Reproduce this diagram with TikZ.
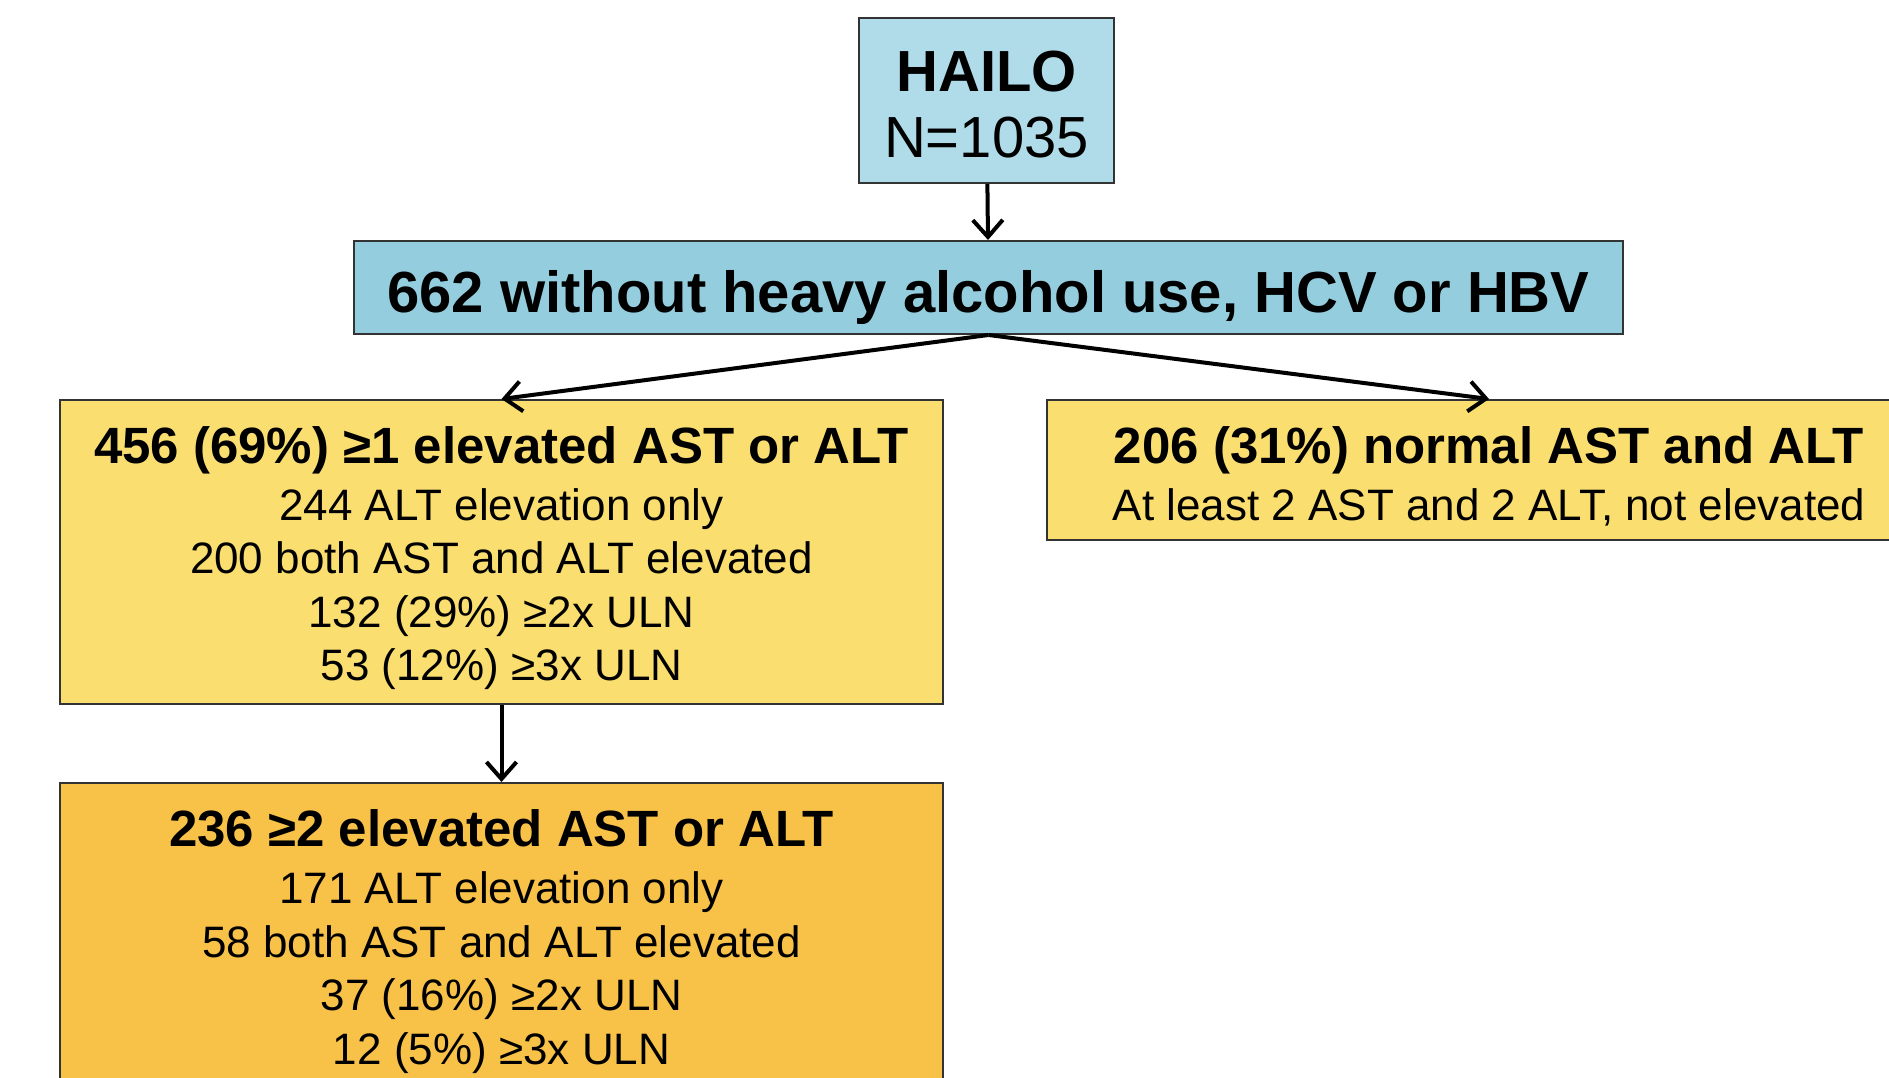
\documentclass[tikz,border=0pt]{standalone}
\usepackage{fontspec}
\setmainfont{Liberation Sans}
\usetikzlibrary{arrows.meta}

\definecolor{hailoblue}{RGB}{176,219,232}
\definecolor{cohortblue}{RGB}{148,205,222}
\definecolor{paleyellow}{RGB}{250,222,112}
\definecolor{deepyellow}{RGB}{248,194,72}

% empty strut that pushes a box's first line down
\newcommand{\padtop}[1]{\rule{0pt}{#1}}

\begin{document}
\begin{tikzpicture}
[-,x=1pt,y=-1pt,%
  box/.style={draw=black!80,line width=2pt,align=center,inner sep=0pt},%
  bluebox/.style={box,fill=hailoblue},%
  cohortbox/.style={box,fill=cohortblue},%
  yellowbox/.style={box,fill=paleyellow,font=\fontsize{44}{53.5}\selectfont},%
  orangebox/.style={box,fill=deepyellow,font=\fontsize{44}{53.5}\selectfont},%
  link/.style={->,>={Straight Barb[length=17pt,width=30pt]},line width=4pt}]
\useasboundingbox (0,0) rectangle (1889,1078);
\node[bluebox,minimum width=255pt,minimum height=165pt,
  font=\fontsize{58}{66}\selectfont] (hailo) at (986.5,100.5)
  {\padtop{49pt}{\bfseries HAILO}\\N=1035};
\node[cohortbox,minimum width=1269pt,minimum height=93pt,
  font=\fontsize{58}{66}\selectfont\bfseries] (cohort) at (988.5,287.5)
  {\padtop{62pt}662 without heavy alcohol use, HCV or HBV};
\node[yellowbox,minimum width=883pt,minimum height=304pt] (elevone) at (501.5,552)
  {\padtop{49pt}{\fontsize{51}{57}\selectfont\bfseries 456 (69\%) ≥1 elevated AST or ALT}\\[3.5pt]
   244 ALT elevation only\\
   200 both AST and ALT elevated\\
   132 (29\%) ≥2x ULN\\
   53 (12\%) ≥3x ULN};
\node[yellowbox,minimum width=884pt,minimum height=140pt] (normal) at (1489,470)
  {\padtop{49pt}{\fontsize{51}{57}\selectfont\bfseries 206 (31\%) normal AST and ALT}\\[3.5pt]
   At least 2 AST and 2 ALT, not elevated};
\node[orangebox,minimum width=883pt,minimum height=312pt] (elevtwo) at (501.5,939)
  {\padtop{42pt}{\fontsize{51}{57}\selectfont\bfseries 236 ≥2 elevated AST or ALT}\\[3.5pt]
   171 ALT elevation only\\
   58 both AST and ALT elevated\\
   37 (16\%) ≥2x ULN\\
   12 (5\%) ≥3x ULN};
\path
(hailo) edge[link] (cohort)
(cohort.south) edge[link] (elevone.north)
(cohort.south) edge[link] (normal.north)
(elevone) edge[link] (elevtwo);
\end{tikzpicture}
\end{document}
